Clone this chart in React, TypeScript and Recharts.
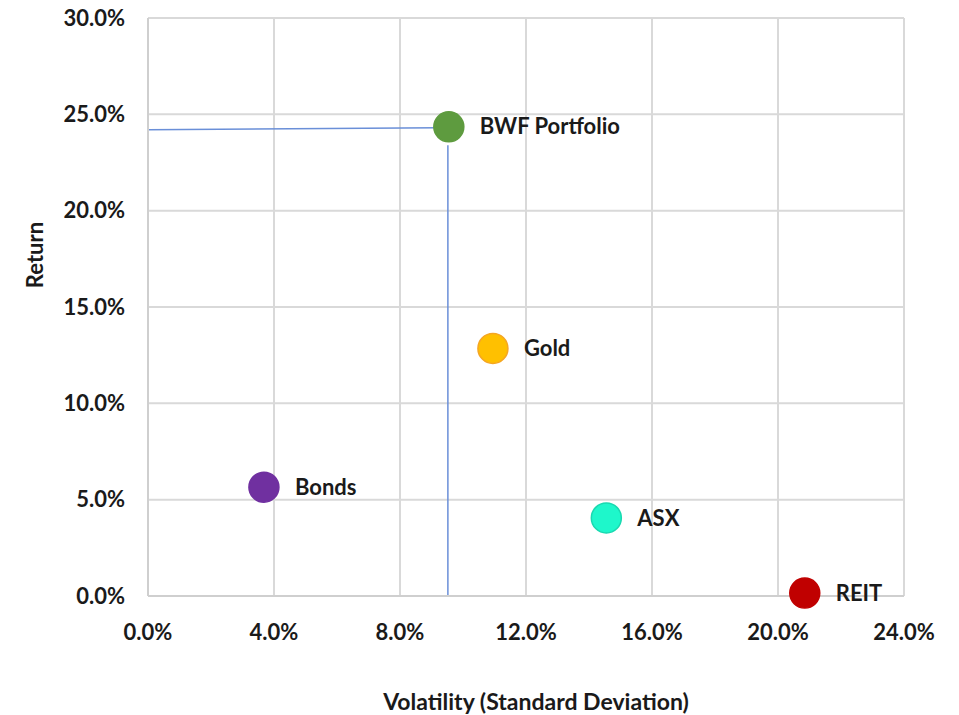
import React from "react";
import {
  CartesianGrid,
  LabelList,
  ReferenceLine,
  Scatter,
  ScatterChart,
  XAxis,
  YAxis,
} from "recharts";

// Asset classes: volatility (std dev, %) vs annual return (%)
const assets = ["BWF Portfolio", "Gold", "Bonds", "ASX", "REIT"];
const volatility = [9.55, 10.95, 3.68, 14.55, 20.85];
const returns = [24.35, 12.85, 5.65, 4.05, 0.15];
const fills = ["#5E9B3F", "#FFC000", "#7030A0", "#1EF7CB", "#C00000"];
const strokes = ["#5E9B3F", "#F5A623", "#7030A0", "#19D9B0", "#C00000"];

// Guide lines dropped from the portfolio point to the axes
const guideH = [
  { x: 0, y: 24.2 },
  { x: 9.25, y: 24.3 },
];
const guideV = [
  { x: 9.52, y: 23.4 },
  { x: 9.52, y: 0 },
];

const xTicks = [0, 4, 8, 12, 16, 20, 24];
const yTicks = [0, 5, 10, 15, 20, 25, 30];

const FONT = "Lato, 'Open Sans', sans-serif";
const GRID = "#D9D9D9";
const TEXT = "#1a1a1a";
const FS = 22;

const data = assets.map((name, i) => ({
  name,
  x: volatility[i],
  y: returns[i],
  fill: fills[i],
  stroke: strokes[i],
}));

const pct = (v: number) => `${v.toFixed(1)}%`;

const Dot = (props: any) => {
  const { cx, cy, payload } = props;
  return (
    <circle
      cx={cx}
      cy={cy}
      r={15}
      fill={payload.fill}
      stroke={payload.stroke}
      strokeWidth={1.5}
    />
  );
};

const PointLabel = (props: any) => {
  const { x, y, width, height, value } = props;
  const cx = x + width / 2;
  const cy = y + height / 2;
  return (
    <text
      x={cx + 31}
      y={cy + 2}
      dominantBaseline="middle"
      fontFamily={FONT}
      fontWeight={700}
      fontSize={FS}
      fill={TEXT}
    >
      {value}
    </text>
  );
};

const App: React.FC = () => {
  return (
    <div style={{ position: "absolute", left: 0, top: 0, background: "#fff" }}>
      <ScatterChart
        width={959}
        height={715}
        margin={{ top: 18, right: 55, bottom: 0, left: 0 }}
      >
        <CartesianGrid stroke={GRID} strokeWidth={2} />
        <XAxis
          type="number"
          dataKey="x"
          domain={[0, 24]}
          ticks={xTicks}
          tickFormatter={pct}
          height={119}
          tickLine={false}
          axisLine={{ stroke: "#CFCFCF", strokeWidth: 2 }}
          tickMargin={22}
          tick={{ fontFamily: FONT, fontWeight: 700, fontSize: FS, fill: TEXT }}
          label={{
            value: "Volatility (Standard Deviation)",
            position: "insideBottom",
            offset: 5,
            dx: 10,
            style: { fontFamily: FONT, fontWeight: 700, fontSize: 23, fill: TEXT },
          }}
        />
        <YAxis
          type="number"
          dataKey="y"
          domain={[0, 30]}
          ticks={yTicks}
          tickFormatter={pct}
          width={148}
          tickLine={false}
          axisLine={{ stroke: "#CFCFCF", strokeWidth: 2 }}
          tickMargin={17}
          tick={{ fontFamily: FONT, fontWeight: 700, fontSize: FS, fill: TEXT }}
          label={(p: any) => {
            const vb = p.viewBox;
            const lx = vb.x + 37;
            const ly = vb.y + vb.height / 2 - 52;
            return (
              <text
                x={lx}
                y={ly}
                transform={`rotate(-90 ${lx} ${ly})`}
                textAnchor="middle"
                dominantBaseline="middle"
                fontFamily={FONT}
                fontWeight={700}
                fontSize={FS}
                fill={TEXT}
              >
                Return
              </text>
            );
          }}
        />
        <ReferenceLine segment={guideH} stroke="#6A8FD8" strokeWidth={1.5} />
        <ReferenceLine segment={guideV} stroke="#6A8FD8" strokeWidth={1.5} />
        <Scatter data={data} shape={Dot} isAnimationActive={false}>
          <LabelList dataKey="name" content={PointLabel} />
        </Scatter>
      </ScatterChart>
    </div>
  );
};

export default App;
